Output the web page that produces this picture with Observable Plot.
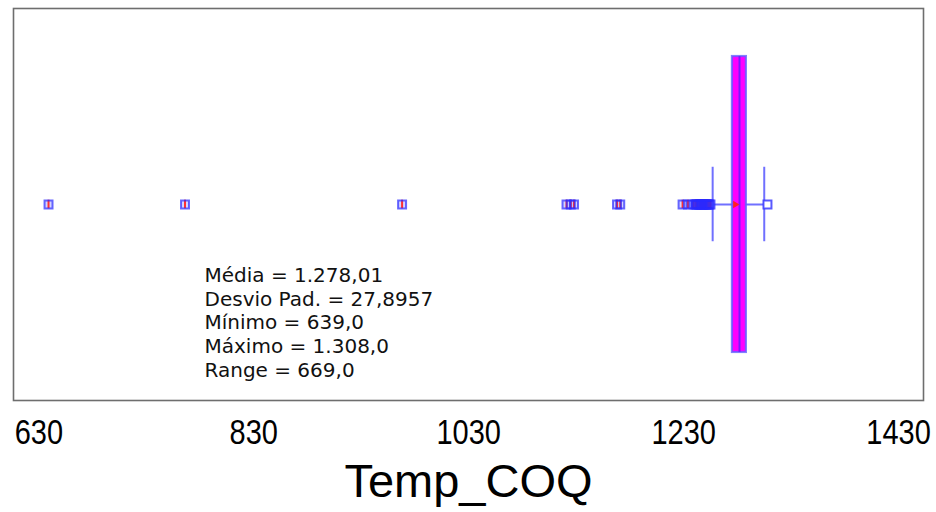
<!DOCTYPE html>
<html><head><meta charset="utf-8">
<script src="https://cdn.jsdelivr.net/npm/d3@7"></script>
<script src="https://cdn.jsdelivr.net/npm/@observablehq/plot@0.6"></script>
<style>body{margin:0;background:#fff}</style>
</head><body><div id="chart"></div>
<script>
const variable = "Temp_COQ";
const xTicks = [630, 830, 1030, 1230, 1430];
const lowOutliers = [639, 766, 968, 1121, 1125, 1128, 1168, 1171, 1229, 1234, 1239,
  1241, 1242, 1243, 1244, 1245, 1246, 1247, 1248, 1249, 1250, 1251, 1252, 1253, 1254, 1255];
const highOutliers = [1308];
const quartiles = [1275.4, 1282, 1288.4]; // Q1, median, Q3
const whiskers = [1257, 1305];
const mean = 1278.01;
const statLines = ["Média = 1.278,01", "Desvio Pad. = 27,8957", "Mínimo = 639,0", "Máximo = 1.308,0", "Range = 669,0"];

const chart = Plot.plot({
  width: 936, height: 512,
  marginTop: 8, marginBottom: 112, marginLeft: 13, marginRight: 13,
  x: {domain: [606.4, 1453.2], axis: null},
  y: {domain: [-1, 1], axis: null},
  style: {fontFamily: "'Liberation Sans', Arial, sans-serif", background: "#fff"},
  marks: [
    Plot.frame({stroke: "#6e6e6e", strokeWidth: 1.6}),
    Plot.ruleY([0], {x1: whiskers[0], x2: whiskers[1], stroke: "#7070ff", strokeWidth: 2}),
    Plot.ruleX(whiskers, {x: d => d, y1: -0.19, y2: 0.19, stroke: "#7070ff", strokeWidth: 2}),
    Plot.rect([quartiles], {x1: d => d[0], x2: d => d[2], y1: -0.755, y2: 0.755, fill: "#ff00ff", stroke: "#6060ff", strokeOpacity: 0.8, strokeWidth: 2.2}),
    Plot.ruleX([quartiles[1]], {x: d => d, y1: -0.755, y2: 0.755, stroke: "#7a1aff", strokeWidth: 2}),
    Plot.dot([mean], {x: d => d, y: 0, symbol: "triangle2", rotate: 90, r: 3.5, fill: "#ff2020"}),
    Plot.dot(lowOutliers, {x: d => d, y: 0, symbol: "square", r: 4.5, fill: "#b8b8ff", fillOpacity: 0.6}),
    Plot.ruleX(lowOutliers, {x: d => d, y1: -0.022, y2: 0.022, stroke: "#ff3030", strokeWidth: 2}),
    Plot.dot(lowOutliers, {x: d => d, y: 0, symbol: "square", r: 4.5, stroke: "#2a2aff", strokeOpacity: 0.7, strokeWidth: 2, fill: "none"}),
    Plot.dot(highOutliers, {x: d => d, y: 0, symbol: "square", r: 4.5, stroke: "#3030ff", strokeOpacity: 0.8, strokeWidth: 2, fill: "white"}),
    Plot.text(xTicks, {x: d => d, text: d => String(d), frameAnchor: "bottom", dy: 32, lineAnchor: "middle", fontSize: 29, fill: "#000", className: "ticklab"}),
    Plot.text([variable], {text: d => d, frameAnchor: "bottom", dy: 81, lineAnchor: "middle", fontSize: 47, fill: "#000"}),
    Plot.text([statLines.join("\n")], {text: d => d, frameAnchor: "top-left", dx: 191, dy: 257, lineAnchor: "top", lineHeight: 1.18, fontSize: 20, fontFamily: "'DejaVu Sans', Verdana, sans-serif", fill: "#111", textAnchor: "start"})
  ]
});
// stretch tick labels vertically to match the reference's tall numerals
d3.select(chart).selectAll("g.ticklab text").each(function() {
  const t = this.getAttribute("transform") || "";
  this.setAttribute("transform", t + " scale(1,1.2)");
});
document.getElementById("chart").appendChild(chart);
</script>
</body></html>
